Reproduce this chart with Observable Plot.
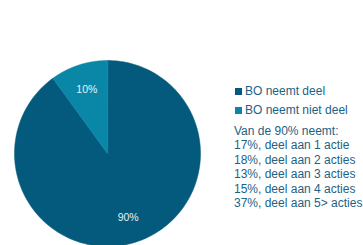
<!DOCTYPE html>
<html><head><meta charset="utf-8">
<script src="https://cdn.jsdelivr.net/npm/d3@7"></script>
<script src="https://cdn.jsdelivr.net/npm/@observablehq/plot@0.6"></script>
<style>
html,body{margin:0;padding:0;background:#fff;}
#wrap{position:relative;width:363px;height:245px;overflow:hidden;font-family:"Liberation Sans",Arial,sans-serif;}
#legend{position:absolute;left:234px;top:0;color:#1c6284;font-size:12px;line-height:14.4px;white-space:nowrap;}
.sw{display:inline-block;width:7px;height:7px;margin-right:3px;vertical-align:0px;}
</style></head>
<body><div id="wrap"><div id="chart"></div><div id="legend"></div></div>
<script>
const categories = ["BO neemt deel", "BO neemt niet deel"];
const shares = [90, 10];
const colors = ["#035a7c", "#0a87a7"];
const labels = ["90%", "10%"];
const noteTitle = "Van de 90% neemt:";
const noteLines = ["17%, deel aan 1 actie", "18%, deel aan 2 acties", "13%, deel aan 3 acties", "15%, deel aan 4 acties", "37%, deel aan 5> acties"];

// angles: 90% clockwise from 12 o'clock, 10% fills the rest
const pie = d3.pie().sort(null).value(d => d.v);
const slices = pie(categories.map((c, i) => ({c, v: shares[i], color: colors[i], label: labels[i]})));
const pts = [];
slices.forEach(s => {
  pts.push({c: s.data.c, x: 0, y: 0});
  const n = 200;
  for (let k = 0; k <= n; k++) {
    const a = s.startAngle + (s.endAngle - s.startAngle) * k / n;
    pts.push({c: s.data.c, x: Math.sin(a), y: Math.cos(a)});
  }
});
const labs = slices.map(s => {
  const a = (s.startAngle + s.endAngle) / 2;
  return {x: 0.72 * Math.sin(a), y: 0.72 * Math.cos(a), t: s.data.label};
});

const plot = Plot.plot({
  width: 363, height: 245,
  margin: 0,
  x: {domain: [-1, 1], range: [14, 200], axis: null},
  y: {domain: [-1, 1], range: [246, 60], axis: null},
  color: {domain: categories, range: colors},
  style: {fontFamily: "Liberation Sans, Arial, sans-serif", background: "#fff"},
  marks: [
    Plot.line(pts, {x: "x", y: "y", z: "c", fill: "c", stroke: "c", strokeWidth: 0.5, curve: "linear-closed"}),
    Plot.text(labs, {x: "x", y: "y", text: "t", fill: "#e8f1f5", fontSize: 10.5})
  ]
});
document.getElementById("chart").appendChild(plot);

const lg = document.getElementById("legend");
let html = '<div style="position:absolute;top:84px;left:1px">';
categories.forEach((c, i) => {
  html += `<div style="height:19px"><span class="sw" style="background:${colors[i]}"></span>${c}</div>`;
});
html += '</div><div style="position:absolute;top:124px;left:0">';
html += `<div>${noteTitle}</div>`;
noteLines.forEach(l => html += `<div>${l}</div>`);
html += '</div>';
lg.innerHTML = html;
</script>
</body></html>
